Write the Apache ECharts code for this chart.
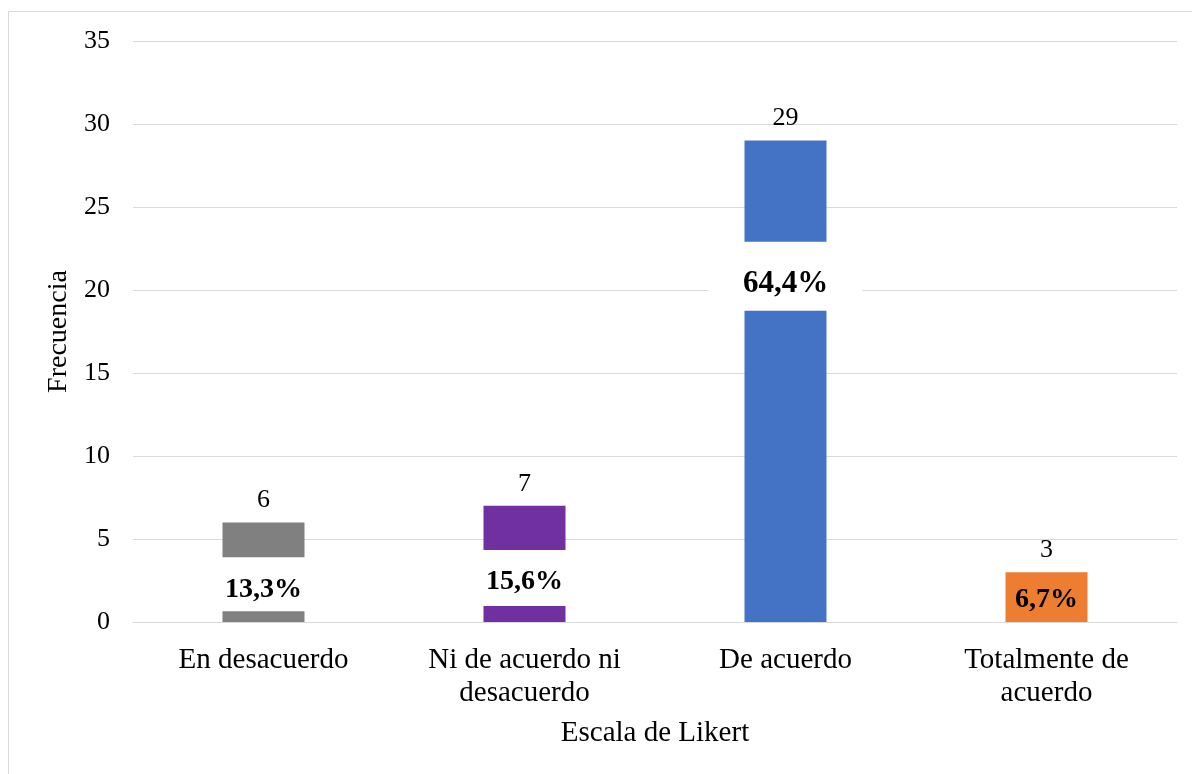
<!DOCTYPE html>
<html>
<head>
<meta charset="utf-8">
<script src="https://cdn.jsdelivr.net/npm/echarts@6/dist/echarts.min.js"></script>
<style>
  html, body { margin: 0; padding: 0; background: #fff; }
  #chart { width: 1192px; height: 774px; }
</style>
</head>
<body>
<div id="chart"></div>
<script>
// datos del gráfico
const categorias = ['En desacuerdo', 'Ni de acuerdo ni\ndesacuerdo', 'De acuerdo', 'Totalmente de\nacuerdo'];
const frecuencias = [6, 7, 29, 3];
const porcentajes = ['13,3%', '15,6%', '64,4%', '6,7%'];
const colores = ['#808080', '#7030A0', '#4472C4', '#ED7D31'];
const yTicks = [0, 35, 5]; // min, max, intervalo

// recuadro blanco detrás de cada porcentaje (ancho, alto, desplazamiento)
const recuadro = [
  { w: 150, h: 54, dy: 12, bg: '#fff' },
  { w: 150, h: 56, dy: 14, bg: '#fff' },
  { w: 154, h: 69, dy: -105, bg: '#fff' },
  { w: 0, h: 0, dy: 0, bg: 'transparent' }
];
// texto del porcentaje (desplazamiento y tamaño)
const textoPct = [
  { dy: 18, size: 28 },
  { dy: 18, size: 28 },
  { dy: -97, size: 31 },
  { dy: 3, size: 28 }
];

const fuente = '"Liberation Serif", "Times New Roman", serif';

let myChart = echarts.init(document.getElementById('chart'));
let option = {
  animation: false,
  textStyle: { fontFamily: fuente },
  graphic: [
    {
      type: 'rect',
      shape: { x: 8.5, y: 11.5, width: 1200, height: 800 },
      style: { fill: 'none', stroke: '#d9d9d9', lineWidth: 1 },
      silent: true,
      z: -10
    }
  ],
  grid: { left: 133, right: 15, top: 41, bottom: 152 },
  xAxis: {
    type: 'category',
    data: categorias,
    name: 'Escala de Likert',
    nameLocation: 'middle',
    nameGap: 97,
    nameTextStyle: { fontFamily: fuente, fontSize: 29, color: '#000' },
    axisLine: { show: true, lineStyle: { color: '#d9d9d9', width: 1 } },
    axisTick: { show: false },
    axisLabel: {
      interval: 0,
      margin: 22,
      fontFamily: fuente,
      fontSize: 29,
      lineHeight: 33,
      color: '#000'
    }
  },
  yAxis: {
    type: 'value',
    min: yTicks[0],
    max: yTicks[1],
    interval: yTicks[2],
    name: 'Frecuencia',
    nameLocation: 'middle',
    nameGap: 59,
    nameTextStyle: { fontFamily: fuente, fontSize: 28, color: '#000' },
    axisLine: { show: false },
    axisTick: { show: false },
    axisLabel: { margin: 23, fontFamily: fuente, fontSize: 26, color: '#000' },
    splitLine: { lineStyle: { color: '#d9d9d9', width: 1 } }
  },
  series: [
    {
      // barras de colores, con el recuadro blanco como etiqueta
      type: 'bar',
      barWidth: 82,
      data: frecuencias.map((v, i) => ({
        value: v,
        itemStyle: { color: colores[i] },
        label: {
          show: recuadro[i].w > 0,
          position: 'inside',
          formatter: ' ',
          width: recuadro[i].w,
          height: recuadro[i].h,
          offset: [0, recuadro[i].dy],
          backgroundColor: recuadro[i].bg
        }
      })),
      z: 2
    },
    {
      // serie transparente solo para la etiqueta de frecuencia arriba
      type: 'bar',
      barWidth: 82,
      barGap: '-100%',
      data: frecuencias,
      itemStyle: { color: 'rgba(0,0,0,0)' },
      label: {
        show: true,
        position: 'top',
        distance: 9,
        fontFamily: fuente,
        fontSize: 26,
        color: '#000'
      },
      z: 3
    },
    {
      // serie transparente para el texto del porcentaje
      type: 'bar',
      barWidth: 82,
      barGap: '-100%',
      data: frecuencias.map((v, i) => ({
        value: v,
        label: {
          show: true,
          position: 'inside',
          formatter: porcentajes[i],
          offset: [0, textoPct[i].dy],
          fontFamily: fuente,
          fontWeight: 'bold',
          fontSize: textoPct[i].size,
          color: '#000'
        }
      })),
      itemStyle: { color: 'rgba(0,0,0,0)' },
      z: 4
    }
  ]
};
myChart.setOption(option);
</script>
</body>
</html>
